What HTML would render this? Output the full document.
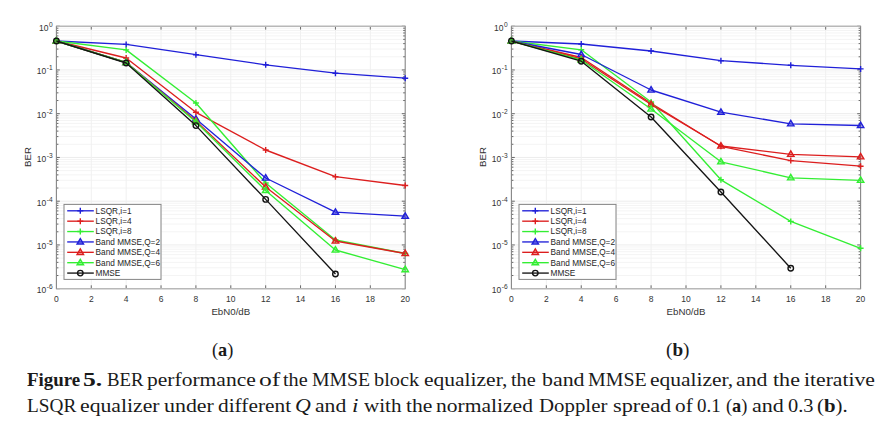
<!DOCTYPE html>
<html><head><meta charset="utf-8">
<style>
html,body{margin:0;padding:0;background:#fff;}
body{width:895px;height:429px;overflow:hidden;position:relative;}
svg{position:absolute;left:0;top:0;}
.tl{font-family:"Liberation Sans",sans-serif;font-size:8.5px;fill:#333;}
.sup{font-size:6.6px;}
.lg{font-family:"Liberation Sans",sans-serif;font-size:8.25px;fill:#262626;}
.al{font-family:"Liberation Sans",sans-serif;font-size:9.7px;fill:#333;}
.cap{position:absolute;font-family:"Liberation Serif",serif;font-size:18.3px;color:#1a1a1a;white-space:nowrap;transform-origin:0 0;line-height:1;}
.sub{position:absolute;font-family:"Liberation Serif",serif;font-size:18.3px;color:#1a1a1a;white-space:nowrap;line-height:1;}
</style></head>
<body>
<svg width="895" height="429" viewBox="0 0 895 429">
<line x1="56.4" y1="56.78" x2="405.2" y2="56.78" stroke="#f4f4f4" stroke-width="1"/>
<line x1="56.4" y1="49.08" x2="405.2" y2="49.08" stroke="#f4f4f4" stroke-width="1"/>
<line x1="56.4" y1="43.61" x2="405.2" y2="43.61" stroke="#f4f4f4" stroke-width="1"/>
<line x1="56.4" y1="39.37" x2="405.2" y2="39.37" stroke="#f4f4f4" stroke-width="1"/>
<line x1="56.4" y1="35.91" x2="405.2" y2="35.91" stroke="#f4f4f4" stroke-width="1"/>
<line x1="56.4" y1="32.98" x2="405.2" y2="32.98" stroke="#f4f4f4" stroke-width="1"/>
<line x1="56.4" y1="30.44" x2="405.2" y2="30.44" stroke="#f4f4f4" stroke-width="1"/>
<line x1="56.4" y1="28.2" x2="405.2" y2="28.2" stroke="#f4f4f4" stroke-width="1"/>
<line x1="56.4" y1="100.53" x2="405.2" y2="100.53" stroke="#f4f4f4" stroke-width="1"/>
<line x1="56.4" y1="92.83" x2="405.2" y2="92.83" stroke="#f4f4f4" stroke-width="1"/>
<line x1="56.4" y1="87.36" x2="405.2" y2="87.36" stroke="#f4f4f4" stroke-width="1"/>
<line x1="56.4" y1="83.12" x2="405.2" y2="83.12" stroke="#f4f4f4" stroke-width="1"/>
<line x1="56.4" y1="79.66" x2="405.2" y2="79.66" stroke="#f4f4f4" stroke-width="1"/>
<line x1="56.4" y1="76.73" x2="405.2" y2="76.73" stroke="#f4f4f4" stroke-width="1"/>
<line x1="56.4" y1="74.19" x2="405.2" y2="74.19" stroke="#f4f4f4" stroke-width="1"/>
<line x1="56.4" y1="71.95" x2="405.2" y2="71.95" stroke="#f4f4f4" stroke-width="1"/>
<line x1="56.4" y1="144.28" x2="405.2" y2="144.28" stroke="#f4f4f4" stroke-width="1"/>
<line x1="56.4" y1="136.58" x2="405.2" y2="136.58" stroke="#f4f4f4" stroke-width="1"/>
<line x1="56.4" y1="131.11" x2="405.2" y2="131.11" stroke="#f4f4f4" stroke-width="1"/>
<line x1="56.4" y1="126.87" x2="405.2" y2="126.87" stroke="#f4f4f4" stroke-width="1"/>
<line x1="56.4" y1="123.41" x2="405.2" y2="123.41" stroke="#f4f4f4" stroke-width="1"/>
<line x1="56.4" y1="120.48" x2="405.2" y2="120.48" stroke="#f4f4f4" stroke-width="1"/>
<line x1="56.4" y1="117.94" x2="405.2" y2="117.94" stroke="#f4f4f4" stroke-width="1"/>
<line x1="56.4" y1="115.7" x2="405.2" y2="115.7" stroke="#f4f4f4" stroke-width="1"/>
<line x1="56.4" y1="188.03" x2="405.2" y2="188.03" stroke="#f4f4f4" stroke-width="1"/>
<line x1="56.4" y1="180.33" x2="405.2" y2="180.33" stroke="#f4f4f4" stroke-width="1"/>
<line x1="56.4" y1="174.86" x2="405.2" y2="174.86" stroke="#f4f4f4" stroke-width="1"/>
<line x1="56.4" y1="170.62" x2="405.2" y2="170.62" stroke="#f4f4f4" stroke-width="1"/>
<line x1="56.4" y1="167.16" x2="405.2" y2="167.16" stroke="#f4f4f4" stroke-width="1"/>
<line x1="56.4" y1="164.23" x2="405.2" y2="164.23" stroke="#f4f4f4" stroke-width="1"/>
<line x1="56.4" y1="161.69" x2="405.2" y2="161.69" stroke="#f4f4f4" stroke-width="1"/>
<line x1="56.4" y1="159.45" x2="405.2" y2="159.45" stroke="#f4f4f4" stroke-width="1"/>
<line x1="56.4" y1="231.78" x2="405.2" y2="231.78" stroke="#f4f4f4" stroke-width="1"/>
<line x1="56.4" y1="224.08" x2="405.2" y2="224.08" stroke="#f4f4f4" stroke-width="1"/>
<line x1="56.4" y1="218.61" x2="405.2" y2="218.61" stroke="#f4f4f4" stroke-width="1"/>
<line x1="56.4" y1="214.37" x2="405.2" y2="214.37" stroke="#f4f4f4" stroke-width="1"/>
<line x1="56.4" y1="210.91" x2="405.2" y2="210.91" stroke="#f4f4f4" stroke-width="1"/>
<line x1="56.4" y1="207.98" x2="405.2" y2="207.98" stroke="#f4f4f4" stroke-width="1"/>
<line x1="56.4" y1="205.44" x2="405.2" y2="205.44" stroke="#f4f4f4" stroke-width="1"/>
<line x1="56.4" y1="203.2" x2="405.2" y2="203.2" stroke="#f4f4f4" stroke-width="1"/>
<line x1="56.4" y1="275.53" x2="405.2" y2="275.53" stroke="#f4f4f4" stroke-width="1"/>
<line x1="56.4" y1="267.83" x2="405.2" y2="267.83" stroke="#f4f4f4" stroke-width="1"/>
<line x1="56.4" y1="262.36" x2="405.2" y2="262.36" stroke="#f4f4f4" stroke-width="1"/>
<line x1="56.4" y1="258.12" x2="405.2" y2="258.12" stroke="#f4f4f4" stroke-width="1"/>
<line x1="56.4" y1="254.66" x2="405.2" y2="254.66" stroke="#f4f4f4" stroke-width="1"/>
<line x1="56.4" y1="251.73" x2="405.2" y2="251.73" stroke="#f4f4f4" stroke-width="1"/>
<line x1="56.4" y1="249.19" x2="405.2" y2="249.19" stroke="#f4f4f4" stroke-width="1"/>
<line x1="56.4" y1="246.95" x2="405.2" y2="246.95" stroke="#f4f4f4" stroke-width="1"/>
<line x1="56.4" y1="69.95" x2="405.2" y2="69.95" stroke="#ececec" stroke-width="1"/>
<line x1="56.4" y1="113.7" x2="405.2" y2="113.7" stroke="#ececec" stroke-width="1"/>
<line x1="56.4" y1="157.45" x2="405.2" y2="157.45" stroke="#ececec" stroke-width="1"/>
<line x1="56.4" y1="201.2" x2="405.2" y2="201.2" stroke="#ececec" stroke-width="1"/>
<line x1="56.4" y1="244.95" x2="405.2" y2="244.95" stroke="#ececec" stroke-width="1"/>
<line x1="91.28" y1="26.2" x2="91.28" y2="288.7" stroke="#f0f0f0" stroke-width="1"/>
<line x1="126.16" y1="26.2" x2="126.16" y2="288.7" stroke="#f0f0f0" stroke-width="1"/>
<line x1="161.04" y1="26.2" x2="161.04" y2="288.7" stroke="#f0f0f0" stroke-width="1"/>
<line x1="195.92" y1="26.2" x2="195.92" y2="288.7" stroke="#f0f0f0" stroke-width="1"/>
<line x1="230.8" y1="26.2" x2="230.8" y2="288.7" stroke="#f0f0f0" stroke-width="1"/>
<line x1="265.68" y1="26.2" x2="265.68" y2="288.7" stroke="#f0f0f0" stroke-width="1"/>
<line x1="300.56" y1="26.2" x2="300.56" y2="288.7" stroke="#f0f0f0" stroke-width="1"/>
<line x1="335.44" y1="26.2" x2="335.44" y2="288.7" stroke="#f0f0f0" stroke-width="1"/>
<line x1="370.32" y1="26.2" x2="370.32" y2="288.7" stroke="#f0f0f0" stroke-width="1"/>
<path d="M91.28 288.7v-3.4M91.28 26.2v3.4M126.16 288.7v-3.4M126.16 26.2v3.4M161.04 288.7v-3.4M161.04 26.2v3.4M195.92 288.7v-3.4M195.92 26.2v3.4M230.8 288.7v-3.4M230.8 26.2v3.4M265.68 288.7v-3.4M265.68 26.2v3.4M300.56 288.7v-3.4M300.56 26.2v3.4M335.44 288.7v-3.4M335.44 26.2v3.4M370.32 288.7v-3.4M370.32 26.2v3.4M56.4 26.2h3.4M405.2 26.2h-3.4M56.4 69.95h3.4M405.2 69.95h-3.4M56.4 113.7h3.4M405.2 113.7h-3.4M56.4 157.45h3.4M405.2 157.45h-3.4M56.4 201.2h3.4M405.2 201.2h-3.4M56.4 244.95h3.4M405.2 244.95h-3.4M56.4 288.7h3.4M405.2 288.7h-3.4M56.4 56.78h2M405.2 56.78h-2M56.4 49.08h2M405.2 49.08h-2M56.4 43.61h2M405.2 43.61h-2M56.4 39.37h2M405.2 39.37h-2M56.4 35.91h2M405.2 35.91h-2M56.4 32.98h2M405.2 32.98h-2M56.4 30.44h2M405.2 30.44h-2M56.4 28.2h2M405.2 28.2h-2M56.4 100.53h2M405.2 100.53h-2M56.4 92.83h2M405.2 92.83h-2M56.4 87.36h2M405.2 87.36h-2M56.4 83.12h2M405.2 83.12h-2M56.4 79.66h2M405.2 79.66h-2M56.4 76.73h2M405.2 76.73h-2M56.4 74.19h2M405.2 74.19h-2M56.4 71.95h2M405.2 71.95h-2M56.4 144.28h2M405.2 144.28h-2M56.4 136.58h2M405.2 136.58h-2M56.4 131.11h2M405.2 131.11h-2M56.4 126.87h2M405.2 126.87h-2M56.4 123.41h2M405.2 123.41h-2M56.4 120.48h2M405.2 120.48h-2M56.4 117.94h2M405.2 117.94h-2M56.4 115.7h2M405.2 115.7h-2M56.4 188.03h2M405.2 188.03h-2M56.4 180.33h2M405.2 180.33h-2M56.4 174.86h2M405.2 174.86h-2M56.4 170.62h2M405.2 170.62h-2M56.4 167.16h2M405.2 167.16h-2M56.4 164.23h2M405.2 164.23h-2M56.4 161.69h2M405.2 161.69h-2M56.4 159.45h2M405.2 159.45h-2M56.4 231.78h2M405.2 231.78h-2M56.4 224.08h2M405.2 224.08h-2M56.4 218.61h2M405.2 218.61h-2M56.4 214.37h2M405.2 214.37h-2M56.4 210.91h2M405.2 210.91h-2M56.4 207.98h2M405.2 207.98h-2M56.4 205.44h2M405.2 205.44h-2M56.4 203.2h2M405.2 203.2h-2M56.4 275.53h2M405.2 275.53h-2M56.4 267.83h2M405.2 267.83h-2M56.4 262.36h2M405.2 262.36h-2M56.4 258.12h2M405.2 258.12h-2M56.4 254.66h2M405.2 254.66h-2M56.4 251.73h2M405.2 251.73h-2M56.4 249.19h2M405.2 249.19h-2M56.4 246.95h2M405.2 246.95h-2" stroke="#5a5a5a" stroke-width="0.9" fill="none"/>
<path d="M55.9 26.2H405.7M55.9 288.7H405.7" stroke="#b8b8b8" stroke-width="1.5" fill="none"/>
<path d="M56.4 26.2V288.7M405.2 26.2V288.7" stroke="#858585" stroke-width="1.1" fill="none"/>
<path d="M56.4 41L126.16 44.4L195.92 54.7L265.68 64.8L335.44 73.2L405.2 78.2" stroke="#2020d8" stroke-width="1.35" fill="none" stroke-linejoin="round"/>
<path d="M53.4 41H59.4M56.4 38V44" stroke="#2020d8" stroke-width="1.4" fill="none"/>
<path d="M123.16 44.4H129.16M126.16 41.4V47.4" stroke="#2020d8" stroke-width="1.4" fill="none"/>
<path d="M192.92 54.7H198.92M195.92 51.7V57.7" stroke="#2020d8" stroke-width="1.4" fill="none"/>
<path d="M262.68 64.8H268.68M265.68 61.8V67.8" stroke="#2020d8" stroke-width="1.4" fill="none"/>
<path d="M332.44 73.2H338.44M335.44 70.2V76.2" stroke="#2020d8" stroke-width="1.4" fill="none"/>
<path d="M402.2 78.2H408.2M405.2 75.2V81.2" stroke="#2020d8" stroke-width="1.4" fill="none"/>
<path d="M56.4 41L126.16 58L195.92 112.3L265.68 150L335.44 176.7L405.2 185.5" stroke="#dc1e1e" stroke-width="1.35" fill="none" stroke-linejoin="round"/>
<path d="M53.4 41H59.4M56.4 38V44" stroke="#dc1e1e" stroke-width="1.4" fill="none"/>
<path d="M123.16 58H129.16M126.16 55V61" stroke="#dc1e1e" stroke-width="1.4" fill="none"/>
<path d="M192.92 112.3H198.92M195.92 109.3V115.3" stroke="#dc1e1e" stroke-width="1.4" fill="none"/>
<path d="M262.68 150H268.68M265.68 147V153" stroke="#dc1e1e" stroke-width="1.4" fill="none"/>
<path d="M332.44 176.7H338.44M335.44 173.7V179.7" stroke="#dc1e1e" stroke-width="1.4" fill="none"/>
<path d="M402.2 185.5H408.2M405.2 182.5V188.5" stroke="#dc1e1e" stroke-width="1.4" fill="none"/>
<path d="M56.4 41L126.16 49.9L195.92 103L265.68 183L335.44 240L405.2 253.5" stroke="#33ee33" stroke-width="1.35" fill="none" stroke-linejoin="round"/>
<path d="M53.4 41H59.4M56.4 38V44" stroke="#33ee33" stroke-width="1.4" fill="none"/>
<path d="M123.16 49.9H129.16M126.16 46.9V52.9" stroke="#33ee33" stroke-width="1.4" fill="none"/>
<path d="M192.92 103H198.92M195.92 100V106" stroke="#33ee33" stroke-width="1.4" fill="none"/>
<path d="M262.68 183H268.68M265.68 180V186" stroke="#33ee33" stroke-width="1.4" fill="none"/>
<path d="M332.44 240H338.44M335.44 237V243" stroke="#33ee33" stroke-width="1.4" fill="none"/>
<path d="M402.2 253.5H408.2M405.2 250.5V256.5" stroke="#33ee33" stroke-width="1.4" fill="none"/>
<path d="M56.4 41L126.16 62.5L195.92 119L265.68 178L335.44 212.2L405.2 216.2" stroke="#2020d8" stroke-width="1.35" fill="none" stroke-linejoin="round"/>
<path d="M56.4 37.6L59.63 43.11H53.17Z" stroke="#2020d8" stroke-width="1.4" fill="#2020d8" fill-opacity="0.35" stroke-linejoin="miter"/>
<path d="M126.16 59.1L129.39 64.61H122.93Z" stroke="#2020d8" stroke-width="1.4" fill="#2020d8" fill-opacity="0.35" stroke-linejoin="miter"/>
<path d="M195.92 115.6L199.15 121.11H192.69Z" stroke="#2020d8" stroke-width="1.4" fill="#2020d8" fill-opacity="0.35" stroke-linejoin="miter"/>
<path d="M265.68 174.6L268.91 180.11H262.45Z" stroke="#2020d8" stroke-width="1.4" fill="#2020d8" fill-opacity="0.35" stroke-linejoin="miter"/>
<path d="M335.44 208.8L338.67 214.31H332.21Z" stroke="#2020d8" stroke-width="1.4" fill="#2020d8" fill-opacity="0.35" stroke-linejoin="miter"/>
<path d="M405.2 212.8L408.43 218.31H401.97Z" stroke="#2020d8" stroke-width="1.4" fill="#2020d8" fill-opacity="0.35" stroke-linejoin="miter"/>
<path d="M56.4 41L126.16 62.5L195.92 121L265.68 187L335.44 241L405.2 253.5" stroke="#dc1e1e" stroke-width="1.35" fill="none" stroke-linejoin="round"/>
<path d="M56.4 37.6L59.63 43.11H53.17Z" stroke="#dc1e1e" stroke-width="1.4" fill="#dc1e1e" fill-opacity="0.35" stroke-linejoin="miter"/>
<path d="M126.16 59.1L129.39 64.61H122.93Z" stroke="#dc1e1e" stroke-width="1.4" fill="#dc1e1e" fill-opacity="0.35" stroke-linejoin="miter"/>
<path d="M195.92 117.6L199.15 123.11H192.69Z" stroke="#dc1e1e" stroke-width="1.4" fill="#dc1e1e" fill-opacity="0.35" stroke-linejoin="miter"/>
<path d="M265.68 183.6L268.91 189.11H262.45Z" stroke="#dc1e1e" stroke-width="1.4" fill="#dc1e1e" fill-opacity="0.35" stroke-linejoin="miter"/>
<path d="M335.44 237.6L338.67 243.11H332.21Z" stroke="#dc1e1e" stroke-width="1.4" fill="#dc1e1e" fill-opacity="0.35" stroke-linejoin="miter"/>
<path d="M405.2 250.1L408.43 255.61H401.97Z" stroke="#dc1e1e" stroke-width="1.4" fill="#dc1e1e" fill-opacity="0.35" stroke-linejoin="miter"/>
<path d="M56.4 41L126.16 62.5L195.92 122L265.68 190.5L335.44 250L405.2 269.6" stroke="#33ee33" stroke-width="1.35" fill="none" stroke-linejoin="round"/>
<path d="M56.4 37.6L59.63 43.11H53.17Z" stroke="#33ee33" stroke-width="1.4" fill="#33ee33" fill-opacity="0.35" stroke-linejoin="miter"/>
<path d="M126.16 59.1L129.39 64.61H122.93Z" stroke="#33ee33" stroke-width="1.4" fill="#33ee33" fill-opacity="0.35" stroke-linejoin="miter"/>
<path d="M195.92 118.6L199.15 124.11H192.69Z" stroke="#33ee33" stroke-width="1.4" fill="#33ee33" fill-opacity="0.35" stroke-linejoin="miter"/>
<path d="M265.68 187.1L268.91 192.61H262.45Z" stroke="#33ee33" stroke-width="1.4" fill="#33ee33" fill-opacity="0.35" stroke-linejoin="miter"/>
<path d="M335.44 246.6L338.67 252.11H332.21Z" stroke="#33ee33" stroke-width="1.4" fill="#33ee33" fill-opacity="0.35" stroke-linejoin="miter"/>
<path d="M405.2 266.2L408.43 271.71H401.97Z" stroke="#33ee33" stroke-width="1.4" fill="#33ee33" fill-opacity="0.35" stroke-linejoin="miter"/>
<path d="M56.4 41L126.16 63L195.92 125.6L265.68 199.4L335.44 274" stroke="#141414" stroke-width="1.35" fill="none" stroke-linejoin="round"/>
<circle cx="56.4" cy="41" r="2.75" stroke="#141414" stroke-width="1.4" fill="none"/>
<circle cx="126.16" cy="63" r="2.75" stroke="#141414" stroke-width="1.4" fill="none"/>
<circle cx="195.92" cy="125.6" r="2.75" stroke="#141414" stroke-width="1.4" fill="none"/>
<circle cx="265.68" cy="199.4" r="2.75" stroke="#141414" stroke-width="1.4" fill="none"/>
<circle cx="335.44" cy="274" r="2.75" stroke="#141414" stroke-width="1.4" fill="none"/>
<rect x="64" y="204.4" width="97" height="75" fill="#fff" stroke="#858585" stroke-width="1"/>
<line x1="67.2" y1="210.8" x2="93.8" y2="210.8" stroke="#2020d8" stroke-width="1.35"/>
<path d="M77.3 210.8H83.3M80.3 207.8V213.8" stroke="#2020d8" stroke-width="1.4" fill="none"/>
<text x="95.6" y="213.7" class="lg">LSQR,i=1</text>
<line x1="67.2" y1="221.18" x2="93.8" y2="221.18" stroke="#dc1e1e" stroke-width="1.35"/>
<path d="M77.3 221.18H83.3M80.3 218.18V224.18" stroke="#dc1e1e" stroke-width="1.4" fill="none"/>
<text x="95.6" y="224.08" class="lg">LSQR,i=4</text>
<line x1="67.2" y1="231.56" x2="93.8" y2="231.56" stroke="#33ee33" stroke-width="1.35"/>
<path d="M77.3 231.56H83.3M80.3 228.56V234.56" stroke="#33ee33" stroke-width="1.4" fill="none"/>
<text x="95.6" y="234.46" class="lg">LSQR,i=8</text>
<line x1="67.2" y1="241.94" x2="93.8" y2="241.94" stroke="#2020d8" stroke-width="1.35"/>
<path d="M80.3 238.54L83.53 244.05H77.07Z" stroke="#2020d8" stroke-width="1.4" fill="#2020d8" fill-opacity="0.35" stroke-linejoin="miter"/>
<text x="95.6" y="244.84" class="lg">Band MMSE,Q=2</text>
<line x1="67.2" y1="252.32" x2="93.8" y2="252.32" stroke="#dc1e1e" stroke-width="1.35"/>
<path d="M80.3 248.92L83.53 254.43H77.07Z" stroke="#dc1e1e" stroke-width="1.4" fill="#dc1e1e" fill-opacity="0.35" stroke-linejoin="miter"/>
<text x="95.6" y="255.22" class="lg">Band MMSE,Q=4</text>
<line x1="67.2" y1="262.7" x2="93.8" y2="262.7" stroke="#33ee33" stroke-width="1.35"/>
<path d="M80.3 259.3L83.53 264.81H77.07Z" stroke="#33ee33" stroke-width="1.4" fill="#33ee33" fill-opacity="0.35" stroke-linejoin="miter"/>
<text x="95.6" y="265.6" class="lg">Band MMSE,Q=6</text>
<line x1="67.2" y1="273.08" x2="93.8" y2="273.08" stroke="#141414" stroke-width="1.35"/>
<circle cx="80.3" cy="273.08" r="2.75" stroke="#141414" stroke-width="1.4" fill="none"/>
<text x="95.6" y="275.98" class="lg">MMSE</text>
<text x="52.6" y="30.6" class="tl" text-anchor="end">10<tspan class="sup" dx="0.4" dy="-4.1">0</tspan></text>
<text x="52.6" y="74.35" class="tl" text-anchor="end">10<tspan class="sup" dx="0.4" dy="-4.1">-1</tspan></text>
<text x="52.6" y="118.1" class="tl" text-anchor="end">10<tspan class="sup" dx="0.4" dy="-4.1">-2</tspan></text>
<text x="52.6" y="161.85" class="tl" text-anchor="end">10<tspan class="sup" dx="0.4" dy="-4.1">-3</tspan></text>
<text x="52.6" y="205.6" class="tl" text-anchor="end">10<tspan class="sup" dx="0.4" dy="-4.1">-4</tspan></text>
<text x="52.6" y="249.35" class="tl" text-anchor="end">10<tspan class="sup" dx="0.4" dy="-4.1">-5</tspan></text>
<text x="52.6" y="293.1" class="tl" text-anchor="end">10<tspan class="sup" dx="0.4" dy="-4.1">-6</tspan></text>
<text x="56.4" y="301.7" class="tl" text-anchor="middle">0</text>
<text x="91.28" y="301.7" class="tl" text-anchor="middle">2</text>
<text x="126.16" y="301.7" class="tl" text-anchor="middle">4</text>
<text x="161.04" y="301.7" class="tl" text-anchor="middle">6</text>
<text x="195.92" y="301.7" class="tl" text-anchor="middle">8</text>
<text x="230.8" y="301.7" class="tl" text-anchor="middle">10</text>
<text x="265.68" y="301.7" class="tl" text-anchor="middle">12</text>
<text x="300.56" y="301.7" class="tl" text-anchor="middle">14</text>
<text x="335.44" y="301.7" class="tl" text-anchor="middle">16</text>
<text x="370.32" y="301.7" class="tl" text-anchor="middle">18</text>
<text x="405.2" y="301.7" class="tl" text-anchor="middle">20</text>
<text x="230.8" y="315" class="al" text-anchor="middle">EbN0/dB</text>
<text x="0" y="0" class="al" text-anchor="middle" transform="translate(30.8 157) rotate(-90)">BER</text>
<line x1="511.4" y1="56.78" x2="860.6" y2="56.78" stroke="#f4f4f4" stroke-width="1"/>
<line x1="511.4" y1="49.08" x2="860.6" y2="49.08" stroke="#f4f4f4" stroke-width="1"/>
<line x1="511.4" y1="43.61" x2="860.6" y2="43.61" stroke="#f4f4f4" stroke-width="1"/>
<line x1="511.4" y1="39.37" x2="860.6" y2="39.37" stroke="#f4f4f4" stroke-width="1"/>
<line x1="511.4" y1="35.91" x2="860.6" y2="35.91" stroke="#f4f4f4" stroke-width="1"/>
<line x1="511.4" y1="32.98" x2="860.6" y2="32.98" stroke="#f4f4f4" stroke-width="1"/>
<line x1="511.4" y1="30.44" x2="860.6" y2="30.44" stroke="#f4f4f4" stroke-width="1"/>
<line x1="511.4" y1="28.2" x2="860.6" y2="28.2" stroke="#f4f4f4" stroke-width="1"/>
<line x1="511.4" y1="100.53" x2="860.6" y2="100.53" stroke="#f4f4f4" stroke-width="1"/>
<line x1="511.4" y1="92.83" x2="860.6" y2="92.83" stroke="#f4f4f4" stroke-width="1"/>
<line x1="511.4" y1="87.36" x2="860.6" y2="87.36" stroke="#f4f4f4" stroke-width="1"/>
<line x1="511.4" y1="83.12" x2="860.6" y2="83.12" stroke="#f4f4f4" stroke-width="1"/>
<line x1="511.4" y1="79.66" x2="860.6" y2="79.66" stroke="#f4f4f4" stroke-width="1"/>
<line x1="511.4" y1="76.73" x2="860.6" y2="76.73" stroke="#f4f4f4" stroke-width="1"/>
<line x1="511.4" y1="74.19" x2="860.6" y2="74.19" stroke="#f4f4f4" stroke-width="1"/>
<line x1="511.4" y1="71.95" x2="860.6" y2="71.95" stroke="#f4f4f4" stroke-width="1"/>
<line x1="511.4" y1="144.28" x2="860.6" y2="144.28" stroke="#f4f4f4" stroke-width="1"/>
<line x1="511.4" y1="136.58" x2="860.6" y2="136.58" stroke="#f4f4f4" stroke-width="1"/>
<line x1="511.4" y1="131.11" x2="860.6" y2="131.11" stroke="#f4f4f4" stroke-width="1"/>
<line x1="511.4" y1="126.87" x2="860.6" y2="126.87" stroke="#f4f4f4" stroke-width="1"/>
<line x1="511.4" y1="123.41" x2="860.6" y2="123.41" stroke="#f4f4f4" stroke-width="1"/>
<line x1="511.4" y1="120.48" x2="860.6" y2="120.48" stroke="#f4f4f4" stroke-width="1"/>
<line x1="511.4" y1="117.94" x2="860.6" y2="117.94" stroke="#f4f4f4" stroke-width="1"/>
<line x1="511.4" y1="115.7" x2="860.6" y2="115.7" stroke="#f4f4f4" stroke-width="1"/>
<line x1="511.4" y1="188.03" x2="860.6" y2="188.03" stroke="#f4f4f4" stroke-width="1"/>
<line x1="511.4" y1="180.33" x2="860.6" y2="180.33" stroke="#f4f4f4" stroke-width="1"/>
<line x1="511.4" y1="174.86" x2="860.6" y2="174.86" stroke="#f4f4f4" stroke-width="1"/>
<line x1="511.4" y1="170.62" x2="860.6" y2="170.62" stroke="#f4f4f4" stroke-width="1"/>
<line x1="511.4" y1="167.16" x2="860.6" y2="167.16" stroke="#f4f4f4" stroke-width="1"/>
<line x1="511.4" y1="164.23" x2="860.6" y2="164.23" stroke="#f4f4f4" stroke-width="1"/>
<line x1="511.4" y1="161.69" x2="860.6" y2="161.69" stroke="#f4f4f4" stroke-width="1"/>
<line x1="511.4" y1="159.45" x2="860.6" y2="159.45" stroke="#f4f4f4" stroke-width="1"/>
<line x1="511.4" y1="231.78" x2="860.6" y2="231.78" stroke="#f4f4f4" stroke-width="1"/>
<line x1="511.4" y1="224.08" x2="860.6" y2="224.08" stroke="#f4f4f4" stroke-width="1"/>
<line x1="511.4" y1="218.61" x2="860.6" y2="218.61" stroke="#f4f4f4" stroke-width="1"/>
<line x1="511.4" y1="214.37" x2="860.6" y2="214.37" stroke="#f4f4f4" stroke-width="1"/>
<line x1="511.4" y1="210.91" x2="860.6" y2="210.91" stroke="#f4f4f4" stroke-width="1"/>
<line x1="511.4" y1="207.98" x2="860.6" y2="207.98" stroke="#f4f4f4" stroke-width="1"/>
<line x1="511.4" y1="205.44" x2="860.6" y2="205.44" stroke="#f4f4f4" stroke-width="1"/>
<line x1="511.4" y1="203.2" x2="860.6" y2="203.2" stroke="#f4f4f4" stroke-width="1"/>
<line x1="511.4" y1="275.53" x2="860.6" y2="275.53" stroke="#f4f4f4" stroke-width="1"/>
<line x1="511.4" y1="267.83" x2="860.6" y2="267.83" stroke="#f4f4f4" stroke-width="1"/>
<line x1="511.4" y1="262.36" x2="860.6" y2="262.36" stroke="#f4f4f4" stroke-width="1"/>
<line x1="511.4" y1="258.12" x2="860.6" y2="258.12" stroke="#f4f4f4" stroke-width="1"/>
<line x1="511.4" y1="254.66" x2="860.6" y2="254.66" stroke="#f4f4f4" stroke-width="1"/>
<line x1="511.4" y1="251.73" x2="860.6" y2="251.73" stroke="#f4f4f4" stroke-width="1"/>
<line x1="511.4" y1="249.19" x2="860.6" y2="249.19" stroke="#f4f4f4" stroke-width="1"/>
<line x1="511.4" y1="246.95" x2="860.6" y2="246.95" stroke="#f4f4f4" stroke-width="1"/>
<line x1="511.4" y1="69.95" x2="860.6" y2="69.95" stroke="#ececec" stroke-width="1"/>
<line x1="511.4" y1="113.7" x2="860.6" y2="113.7" stroke="#ececec" stroke-width="1"/>
<line x1="511.4" y1="157.45" x2="860.6" y2="157.45" stroke="#ececec" stroke-width="1"/>
<line x1="511.4" y1="201.2" x2="860.6" y2="201.2" stroke="#ececec" stroke-width="1"/>
<line x1="511.4" y1="244.95" x2="860.6" y2="244.95" stroke="#ececec" stroke-width="1"/>
<line x1="546.32" y1="26.2" x2="546.32" y2="288.7" stroke="#f0f0f0" stroke-width="1"/>
<line x1="581.24" y1="26.2" x2="581.24" y2="288.7" stroke="#f0f0f0" stroke-width="1"/>
<line x1="616.16" y1="26.2" x2="616.16" y2="288.7" stroke="#f0f0f0" stroke-width="1"/>
<line x1="651.08" y1="26.2" x2="651.08" y2="288.7" stroke="#f0f0f0" stroke-width="1"/>
<line x1="686" y1="26.2" x2="686" y2="288.7" stroke="#f0f0f0" stroke-width="1"/>
<line x1="720.92" y1="26.2" x2="720.92" y2="288.7" stroke="#f0f0f0" stroke-width="1"/>
<line x1="755.84" y1="26.2" x2="755.84" y2="288.7" stroke="#f0f0f0" stroke-width="1"/>
<line x1="790.76" y1="26.2" x2="790.76" y2="288.7" stroke="#f0f0f0" stroke-width="1"/>
<line x1="825.68" y1="26.2" x2="825.68" y2="288.7" stroke="#f0f0f0" stroke-width="1"/>
<path d="M546.32 288.7v-3.4M546.32 26.2v3.4M581.24 288.7v-3.4M581.24 26.2v3.4M616.16 288.7v-3.4M616.16 26.2v3.4M651.08 288.7v-3.4M651.08 26.2v3.4M686 288.7v-3.4M686 26.2v3.4M720.92 288.7v-3.4M720.92 26.2v3.4M755.84 288.7v-3.4M755.84 26.2v3.4M790.76 288.7v-3.4M790.76 26.2v3.4M825.68 288.7v-3.4M825.68 26.2v3.4M511.4 26.2h3.4M860.6 26.2h-3.4M511.4 69.95h3.4M860.6 69.95h-3.4M511.4 113.7h3.4M860.6 113.7h-3.4M511.4 157.45h3.4M860.6 157.45h-3.4M511.4 201.2h3.4M860.6 201.2h-3.4M511.4 244.95h3.4M860.6 244.95h-3.4M511.4 288.7h3.4M860.6 288.7h-3.4M511.4 56.78h2M860.6 56.78h-2M511.4 49.08h2M860.6 49.08h-2M511.4 43.61h2M860.6 43.61h-2M511.4 39.37h2M860.6 39.37h-2M511.4 35.91h2M860.6 35.91h-2M511.4 32.98h2M860.6 32.98h-2M511.4 30.44h2M860.6 30.44h-2M511.4 28.2h2M860.6 28.2h-2M511.4 100.53h2M860.6 100.53h-2M511.4 92.83h2M860.6 92.83h-2M511.4 87.36h2M860.6 87.36h-2M511.4 83.12h2M860.6 83.12h-2M511.4 79.66h2M860.6 79.66h-2M511.4 76.73h2M860.6 76.73h-2M511.4 74.19h2M860.6 74.19h-2M511.4 71.95h2M860.6 71.95h-2M511.4 144.28h2M860.6 144.28h-2M511.4 136.58h2M860.6 136.58h-2M511.4 131.11h2M860.6 131.11h-2M511.4 126.87h2M860.6 126.87h-2M511.4 123.41h2M860.6 123.41h-2M511.4 120.48h2M860.6 120.48h-2M511.4 117.94h2M860.6 117.94h-2M511.4 115.7h2M860.6 115.7h-2M511.4 188.03h2M860.6 188.03h-2M511.4 180.33h2M860.6 180.33h-2M511.4 174.86h2M860.6 174.86h-2M511.4 170.62h2M860.6 170.62h-2M511.4 167.16h2M860.6 167.16h-2M511.4 164.23h2M860.6 164.23h-2M511.4 161.69h2M860.6 161.69h-2M511.4 159.45h2M860.6 159.45h-2M511.4 231.78h2M860.6 231.78h-2M511.4 224.08h2M860.6 224.08h-2M511.4 218.61h2M860.6 218.61h-2M511.4 214.37h2M860.6 214.37h-2M511.4 210.91h2M860.6 210.91h-2M511.4 207.98h2M860.6 207.98h-2M511.4 205.44h2M860.6 205.44h-2M511.4 203.2h2M860.6 203.2h-2M511.4 275.53h2M860.6 275.53h-2M511.4 267.83h2M860.6 267.83h-2M511.4 262.36h2M860.6 262.36h-2M511.4 258.12h2M860.6 258.12h-2M511.4 254.66h2M860.6 254.66h-2M511.4 251.73h2M860.6 251.73h-2M511.4 249.19h2M860.6 249.19h-2M511.4 246.95h2M860.6 246.95h-2" stroke="#5a5a5a" stroke-width="0.9" fill="none"/>
<path d="M510.9 26.2H861.1M510.9 288.7H861.1" stroke="#b8b8b8" stroke-width="1.5" fill="none"/>
<path d="M511.4 26.2V288.7M860.6 26.2V288.7" stroke="#858585" stroke-width="1.1" fill="none"/>
<path d="M511.4 41L581.24 44L651.08 51L720.92 60.7L790.76 65.3L860.6 68.9" stroke="#2020d8" stroke-width="1.35" fill="none" stroke-linejoin="round"/>
<path d="M508.4 41H514.4M511.4 38V44" stroke="#2020d8" stroke-width="1.4" fill="none"/>
<path d="M578.24 44H584.24M581.24 41V47" stroke="#2020d8" stroke-width="1.4" fill="none"/>
<path d="M648.08 51H654.08M651.08 48V54" stroke="#2020d8" stroke-width="1.4" fill="none"/>
<path d="M717.92 60.7H723.92M720.92 57.7V63.7" stroke="#2020d8" stroke-width="1.4" fill="none"/>
<path d="M787.76 65.3H793.76M790.76 62.3V68.3" stroke="#2020d8" stroke-width="1.4" fill="none"/>
<path d="M857.6 68.9H863.6M860.6 65.9V71.9" stroke="#2020d8" stroke-width="1.4" fill="none"/>
<path d="M511.4 41L581.24 57.5L651.08 103.3L720.92 146.3L790.76 160.6L860.6 166.2" stroke="#dc1e1e" stroke-width="1.35" fill="none" stroke-linejoin="round"/>
<path d="M508.4 41H514.4M511.4 38V44" stroke="#dc1e1e" stroke-width="1.4" fill="none"/>
<path d="M578.24 57.5H584.24M581.24 54.5V60.5" stroke="#dc1e1e" stroke-width="1.4" fill="none"/>
<path d="M648.08 103.3H654.08M651.08 100.3V106.3" stroke="#dc1e1e" stroke-width="1.4" fill="none"/>
<path d="M717.92 146.3H723.92M720.92 143.3V149.3" stroke="#dc1e1e" stroke-width="1.4" fill="none"/>
<path d="M787.76 160.6H793.76M790.76 157.6V163.6" stroke="#dc1e1e" stroke-width="1.4" fill="none"/>
<path d="M857.6 166.2H863.6M860.6 163.2V169.2" stroke="#dc1e1e" stroke-width="1.4" fill="none"/>
<path d="M511.4 41L581.24 49.8L651.08 102L720.92 179.8L790.76 221.4L860.6 248.3" stroke="#33ee33" stroke-width="1.35" fill="none" stroke-linejoin="round"/>
<path d="M508.4 41H514.4M511.4 38V44" stroke="#33ee33" stroke-width="1.4" fill="none"/>
<path d="M578.24 49.8H584.24M581.24 46.8V52.8" stroke="#33ee33" stroke-width="1.4" fill="none"/>
<path d="M648.08 102H654.08M651.08 99V105" stroke="#33ee33" stroke-width="1.4" fill="none"/>
<path d="M717.92 179.8H723.92M720.92 176.8V182.8" stroke="#33ee33" stroke-width="1.4" fill="none"/>
<path d="M787.76 221.4H793.76M790.76 218.4V224.4" stroke="#33ee33" stroke-width="1.4" fill="none"/>
<path d="M857.6 248.3H863.6M860.6 245.3V251.3" stroke="#33ee33" stroke-width="1.4" fill="none"/>
<path d="M511.4 41L581.24 54.5L651.08 90L720.92 112.2L790.76 123.8L860.6 125.5" stroke="#2020d8" stroke-width="1.35" fill="none" stroke-linejoin="round"/>
<path d="M511.4 37.6L514.63 43.11H508.17Z" stroke="#2020d8" stroke-width="1.4" fill="#2020d8" fill-opacity="0.35" stroke-linejoin="miter"/>
<path d="M581.24 51.1L584.47 56.61H578.01Z" stroke="#2020d8" stroke-width="1.4" fill="#2020d8" fill-opacity="0.35" stroke-linejoin="miter"/>
<path d="M651.08 86.6L654.31 92.11H647.85Z" stroke="#2020d8" stroke-width="1.4" fill="#2020d8" fill-opacity="0.35" stroke-linejoin="miter"/>
<path d="M720.92 108.8L724.15 114.31H717.69Z" stroke="#2020d8" stroke-width="1.4" fill="#2020d8" fill-opacity="0.35" stroke-linejoin="miter"/>
<path d="M790.76 120.4L793.99 125.91H787.53Z" stroke="#2020d8" stroke-width="1.4" fill="#2020d8" fill-opacity="0.35" stroke-linejoin="miter"/>
<path d="M860.6 122.1L863.83 127.61H857.37Z" stroke="#2020d8" stroke-width="1.4" fill="#2020d8" fill-opacity="0.35" stroke-linejoin="miter"/>
<path d="M511.4 41L581.24 59L651.08 104.5L720.92 146L790.76 154.3L860.6 156.8" stroke="#dc1e1e" stroke-width="1.35" fill="none" stroke-linejoin="round"/>
<path d="M511.4 37.6L514.63 43.11H508.17Z" stroke="#dc1e1e" stroke-width="1.4" fill="#dc1e1e" fill-opacity="0.35" stroke-linejoin="miter"/>
<path d="M581.24 55.6L584.47 61.11H578.01Z" stroke="#dc1e1e" stroke-width="1.4" fill="#dc1e1e" fill-opacity="0.35" stroke-linejoin="miter"/>
<path d="M651.08 101.1L654.31 106.61H647.85Z" stroke="#dc1e1e" stroke-width="1.4" fill="#dc1e1e" fill-opacity="0.35" stroke-linejoin="miter"/>
<path d="M720.92 142.6L724.15 148.11H717.69Z" stroke="#dc1e1e" stroke-width="1.4" fill="#dc1e1e" fill-opacity="0.35" stroke-linejoin="miter"/>
<path d="M790.76 150.9L793.99 156.41H787.53Z" stroke="#dc1e1e" stroke-width="1.4" fill="#dc1e1e" fill-opacity="0.35" stroke-linejoin="miter"/>
<path d="M860.6 153.4L863.83 158.91H857.37Z" stroke="#dc1e1e" stroke-width="1.4" fill="#dc1e1e" fill-opacity="0.35" stroke-linejoin="miter"/>
<path d="M511.4 41L581.24 60L651.08 109L720.92 161.8L790.76 177.8L860.6 180.3" stroke="#33ee33" stroke-width="1.35" fill="none" stroke-linejoin="round"/>
<path d="M511.4 37.6L514.63 43.11H508.17Z" stroke="#33ee33" stroke-width="1.4" fill="#33ee33" fill-opacity="0.35" stroke-linejoin="miter"/>
<path d="M581.24 56.6L584.47 62.11H578.01Z" stroke="#33ee33" stroke-width="1.4" fill="#33ee33" fill-opacity="0.35" stroke-linejoin="miter"/>
<path d="M651.08 105.6L654.31 111.11H647.85Z" stroke="#33ee33" stroke-width="1.4" fill="#33ee33" fill-opacity="0.35" stroke-linejoin="miter"/>
<path d="M720.92 158.4L724.15 163.91H717.69Z" stroke="#33ee33" stroke-width="1.4" fill="#33ee33" fill-opacity="0.35" stroke-linejoin="miter"/>
<path d="M790.76 174.4L793.99 179.91H787.53Z" stroke="#33ee33" stroke-width="1.4" fill="#33ee33" fill-opacity="0.35" stroke-linejoin="miter"/>
<path d="M860.6 176.9L863.83 182.41H857.37Z" stroke="#33ee33" stroke-width="1.4" fill="#33ee33" fill-opacity="0.35" stroke-linejoin="miter"/>
<path d="M511.4 41L581.24 61.2L651.08 117L720.92 192L790.76 268.2" stroke="#141414" stroke-width="1.35" fill="none" stroke-linejoin="round"/>
<circle cx="511.4" cy="41" r="2.75" stroke="#141414" stroke-width="1.4" fill="none"/>
<circle cx="581.24" cy="61.2" r="2.75" stroke="#141414" stroke-width="1.4" fill="none"/>
<circle cx="651.08" cy="117" r="2.75" stroke="#141414" stroke-width="1.4" fill="none"/>
<circle cx="720.92" cy="192" r="2.75" stroke="#141414" stroke-width="1.4" fill="none"/>
<circle cx="790.76" cy="268.2" r="2.75" stroke="#141414" stroke-width="1.4" fill="none"/>
<rect x="519" y="204.4" width="97" height="75" fill="#fff" stroke="#858585" stroke-width="1"/>
<line x1="522.2" y1="210.8" x2="548.8" y2="210.8" stroke="#2020d8" stroke-width="1.35"/>
<path d="M532.3 210.8H538.3M535.3 207.8V213.8" stroke="#2020d8" stroke-width="1.4" fill="none"/>
<text x="550.6" y="213.7" class="lg">LSQR,i=1</text>
<line x1="522.2" y1="221.18" x2="548.8" y2="221.18" stroke="#dc1e1e" stroke-width="1.35"/>
<path d="M532.3 221.18H538.3M535.3 218.18V224.18" stroke="#dc1e1e" stroke-width="1.4" fill="none"/>
<text x="550.6" y="224.08" class="lg">LSQR,i=4</text>
<line x1="522.2" y1="231.56" x2="548.8" y2="231.56" stroke="#33ee33" stroke-width="1.35"/>
<path d="M532.3 231.56H538.3M535.3 228.56V234.56" stroke="#33ee33" stroke-width="1.4" fill="none"/>
<text x="550.6" y="234.46" class="lg">LSQR,i=8</text>
<line x1="522.2" y1="241.94" x2="548.8" y2="241.94" stroke="#2020d8" stroke-width="1.35"/>
<path d="M535.3 238.54L538.53 244.05H532.07Z" stroke="#2020d8" stroke-width="1.4" fill="#2020d8" fill-opacity="0.35" stroke-linejoin="miter"/>
<text x="550.6" y="244.84" class="lg">Band MMSE,Q=2</text>
<line x1="522.2" y1="252.32" x2="548.8" y2="252.32" stroke="#dc1e1e" stroke-width="1.35"/>
<path d="M535.3 248.92L538.53 254.43H532.07Z" stroke="#dc1e1e" stroke-width="1.4" fill="#dc1e1e" fill-opacity="0.35" stroke-linejoin="miter"/>
<text x="550.6" y="255.22" class="lg">Band MMSE,Q=4</text>
<line x1="522.2" y1="262.7" x2="548.8" y2="262.7" stroke="#33ee33" stroke-width="1.35"/>
<path d="M535.3 259.3L538.53 264.81H532.07Z" stroke="#33ee33" stroke-width="1.4" fill="#33ee33" fill-opacity="0.35" stroke-linejoin="miter"/>
<text x="550.6" y="265.6" class="lg">Band MMSE,Q=6</text>
<line x1="522.2" y1="273.08" x2="548.8" y2="273.08" stroke="#141414" stroke-width="1.35"/>
<circle cx="535.3" cy="273.08" r="2.75" stroke="#141414" stroke-width="1.4" fill="none"/>
<text x="550.6" y="275.98" class="lg">MMSE</text>
<text x="507.6" y="30.6" class="tl" text-anchor="end">10<tspan class="sup" dx="0.4" dy="-4.1">0</tspan></text>
<text x="507.6" y="74.35" class="tl" text-anchor="end">10<tspan class="sup" dx="0.4" dy="-4.1">-1</tspan></text>
<text x="507.6" y="118.1" class="tl" text-anchor="end">10<tspan class="sup" dx="0.4" dy="-4.1">-2</tspan></text>
<text x="507.6" y="161.85" class="tl" text-anchor="end">10<tspan class="sup" dx="0.4" dy="-4.1">-3</tspan></text>
<text x="507.6" y="205.6" class="tl" text-anchor="end">10<tspan class="sup" dx="0.4" dy="-4.1">-4</tspan></text>
<text x="507.6" y="249.35" class="tl" text-anchor="end">10<tspan class="sup" dx="0.4" dy="-4.1">-5</tspan></text>
<text x="507.6" y="293.1" class="tl" text-anchor="end">10<tspan class="sup" dx="0.4" dy="-4.1">-6</tspan></text>
<text x="511.4" y="301.7" class="tl" text-anchor="middle">0</text>
<text x="546.32" y="301.7" class="tl" text-anchor="middle">2</text>
<text x="581.24" y="301.7" class="tl" text-anchor="middle">4</text>
<text x="616.16" y="301.7" class="tl" text-anchor="middle">6</text>
<text x="651.08" y="301.7" class="tl" text-anchor="middle">8</text>
<text x="686" y="301.7" class="tl" text-anchor="middle">10</text>
<text x="720.92" y="301.7" class="tl" text-anchor="middle">12</text>
<text x="755.84" y="301.7" class="tl" text-anchor="middle">14</text>
<text x="790.76" y="301.7" class="tl" text-anchor="middle">16</text>
<text x="825.68" y="301.7" class="tl" text-anchor="middle">18</text>
<text x="860.6" y="301.7" class="tl" text-anchor="middle">20</text>
<text x="686" y="315" class="al" text-anchor="middle">EbN0/dB</text>
<text x="0" y="0" class="al" text-anchor="middle" transform="translate(485.8 157) rotate(-90)">BER</text>
</svg>
<div class="sub" id="sa" style="left:212px;top:340.5px">(<b>a</b>)</div>
<div class="sub" id="sb" style="left:666px;top:340.5px;transform:scaleX(1.05);transform-origin:0 0">(<b>b</b>)</div>
<div class="cap" style="left:27.00px;top:370.5px;transform:scaleX(1.0353)"><b>Figure</b></div>
<div class="cap" style="left:83.10px;top:370.5px;transform:scaleX(1.4000)"><b>5.</b></div>
<div class="cap" style="left:107.27px;top:370.5px;transform:scaleX(1.0265)">BER</div>
<div class="cap" style="left:147.22px;top:370.5px;transform:scaleX(1.1780)">performance</div>
<div class="cap" style="left:258.90px;top:370.5px;transform:scaleX(1.4000)">of</div>
<div class="cap" style="left:282.50px;top:370.5px;transform:scaleX(1.1045)">the</div>
<div class="cap" style="left:311.62px;top:370.5px;transform:scaleX(1.0788)">MMSE</div>
<div class="cap" style="left:373.90px;top:370.5px;transform:scaleX(1.1122)">block</div>
<div class="cap" style="left:423.92px;top:370.5px;transform:scaleX(1.1768)">equalizer,</div>
<div class="cap" style="left:511.40px;top:370.5px;transform:scaleX(1.1045)">the</div>
<div class="cap" style="left:541.70px;top:370.5px;transform:scaleX(1.1971)">band</div>
<div class="cap" style="left:587.91px;top:370.5px;transform:scaleX(1.0885)">MMSE</div>
<div class="cap" style="left:650.22px;top:370.5px;transform:scaleX(1.1754)">equalizer,</div>
<div class="cap" style="left:736.01px;top:370.5px;transform:scaleX(1.1920)">and</div>
<div class="cap" style="left:773.00px;top:370.5px;transform:scaleX(1.2045)">the</div>
<div class="cap" style="left:804.12px;top:370.5px;transform:scaleX(1.1845)">iterative</div>
<div class="cap" style="left:26.85px;top:396.9px;transform:scaleX(1.0533)">LSQR</div>
<div class="cap" style="left:79.51px;top:396.9px;transform:scaleX(1.1879)">equalizer</div>
<div class="cap" style="left:164.20px;top:396.9px;transform:scaleX(1.1976)">under</div>
<div class="cap" style="left:218.33px;top:396.9px;transform:scaleX(1.1672)">different</div>
<div class="cap" style="left:295.30px;top:396.9px;transform:scaleX(1.2000)"><i>Q</i></div>
<div class="cap" style="left:315.32px;top:396.9px;transform:scaleX(1.1840)">and</div>
<div class="cap" style="left:351.53px;top:396.9px;transform:scaleX(1.2750)"><i>i</i></div>
<div class="cap" style="left:363.70px;top:396.9px;transform:scaleX(1.1531)">with</div>
<div class="cap" style="left:405.60px;top:396.9px;transform:scaleX(1.1818)">the</div>
<div class="cap" style="left:436.42px;top:396.9px;transform:scaleX(1.1790)">normalized</div>
<div class="cap" style="left:538.96px;top:396.9px;transform:scaleX(1.1407)">Doppler</div>
<div class="cap" style="left:612.58px;top:396.9px;transform:scaleX(1.2196)">spread</div>
<div class="cap" style="left:675.24px;top:396.9px;transform:scaleX(1.1643)">of</div>
<div class="cap" style="left:696.66px;top:396.9px;transform:scaleX(1.0381)">0.1</div>
<div class="cap" style="left:726.00px;top:396.9px;transform:scaleX(1.0050)">(<b>a</b>)</div>
<div class="cap" style="left:751.79px;top:396.9px;transform:scaleX(1.2080)">and</div>
<div class="cap" style="left:787.88px;top:396.9px;transform:scaleX(1.1190)">0.3</div>
<div class="cap" style="left:816.76px;top:396.9px;transform:scaleX(1.1400)">(<b>b</b>).</div>
</body></html>
